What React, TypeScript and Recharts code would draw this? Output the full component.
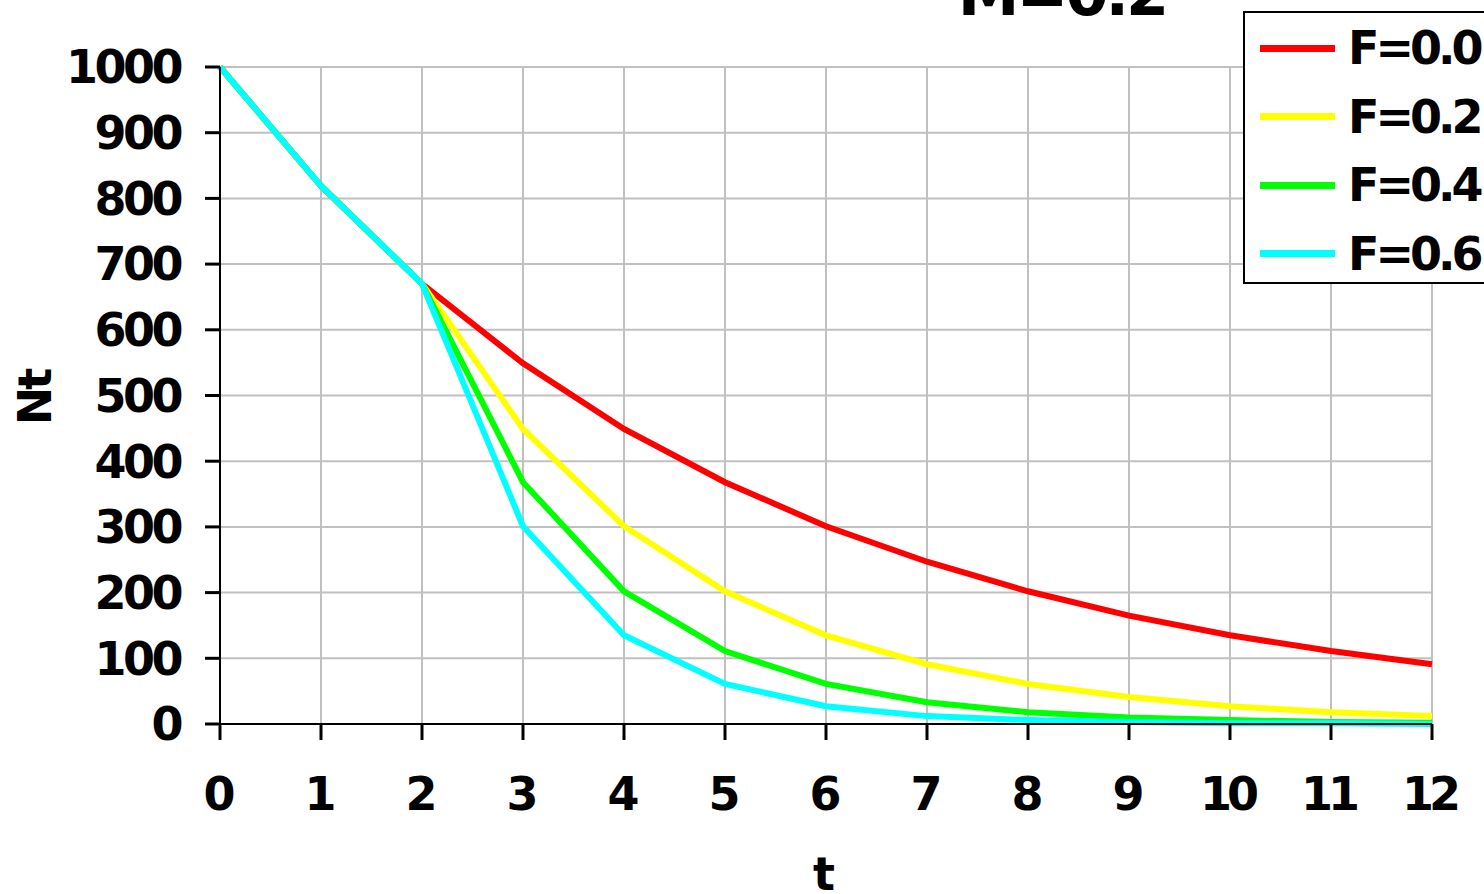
import React from 'react';
import { LineChart, Line, XAxis, YAxis, CartesianGrid } from 'recharts';

const years = [0, 1, 2, 3, 4, 5, 6, 7, 8, 9, 10, 11, 12];
const f00 = [1000, 819, 670, 549, 449, 368, 301, 247, 202, 165, 135, 111, 91];
const f02 = [1000, 819, 670, 449, 301, 202, 135, 91, 61, 41, 27, 18, 12];
const f04 = [1000, 819, 670, 368, 202, 111, 61, 33, 18, 10, 6, 3, 2];
const f06 = [1000, 819, 670, 301, 135, 61, 27, 12, 6, 3, 1, 1, 0];
const yTicks = [0, 100, 200, 300, 400, 500, 600, 700, 800, 900, 1000];

const seriesList = [
  { key: 'f00', name: 'F=0.0', color: '#ff0000', values: f00 },
  { key: 'f02', name: 'F=0.2', color: '#ffff00', values: f02 },
  { key: 'f04', name: 'F=0.4', color: '#00ff00', values: f04 },
  { key: 'f06', name: 'F=0.6', color: '#00ffff', values: f06 },
];

const data = years.map((t, i) => {
  const row: any = { t };
  seriesList.forEach(s => { row[s.key] = s.values[i]; });
  return row;
});

const FONT = '"DejaVu Sans", Verdana, sans-serif';
const xTickStyle = { fontFamily: FONT, fontWeight: 700, fontSize: 46, fill: '#000', letterSpacing: -5 };
const yTickStyle = { fontFamily: FONT, fontWeight: 700, fontSize: 46, fill: '#000', letterSpacing: -3.5 };

// legend drawn as a plain box over the chart, as in the original
const LegendBox = () => (
  <div style={{
    position: 'absolute', left: 1243, top: 11, width: 260, height: 273, background: '#fff',
    border: '2px solid #000', boxSizing: 'border-box', fontFamily: FONT,
  }}>
    {seriesList.map((s, i) => (
      <div key={s.key} style={{ position: 'absolute', left: 15, top: 8 + i * 68.5, height: 54, display: 'flex', alignItems: 'center' }}>
        <div style={{ width: 75, height: 7, background: s.color }} />
        <span style={{ marginLeft: 13, fontSize: 46, fontWeight: 700, letterSpacing: -4, lineHeight: '54px' }}>{s.name}</span>
      </div>
    ))}
  </div>
);

export default function App() {
  return (
    <div style={{ position: 'absolute', left: 0, top: 0, width: 1484, height: 894, overflow: 'hidden', background: '#fff' }}>
      <LineChart width={1484} height={894} data={data} margin={{ top: 67, right: 52, bottom: 0, left: 0 }}>
        <CartesianGrid stroke="#c0c0c0" strokeWidth={2} />
        <XAxis
          dataKey="t" type="number" domain={[0, 12]} ticks={years} height={170}
          axisLine={{ stroke: '#000', strokeWidth: 2 }} tickLine={{ stroke: '#000', strokeWidth: 3 }}
          tickSize={16} tickMargin={37} tick={{ ...xTickStyle, dx: -3 }} interval={0}
          label={{
            content: () => (
              <text x={824} y={890} textAnchor="middle" style={{ fontFamily: FONT, fontWeight: 700, fontSize: 46 }}>t</text>
            ),
          }}
        />
        <YAxis
          type="number" domain={[0, 1000]} ticks={yTicks} width={220} interval={0}
          axisLine={{ stroke: '#000', strokeWidth: 2 }} tickLine={{ stroke: '#000', strokeWidth: 3 }}
          tickSize={15} tickMargin={25} tick={yTickStyle}
          label={{
            content: () => (
              <text x={35} y={398} transform="rotate(-90 35 398)" textAnchor="middle" dominantBaseline="central"
                style={{ fontFamily: FONT, fontWeight: 700, fontSize: 46, letterSpacing: -3 }}>Nt</text>
            ),
          }}
        />
        {seriesList.map(s => (
          <Line
            key={s.key} dataKey={s.key} name={s.name} stroke={s.color} strokeWidth={6}
            dot={false} activeDot={false} type="linear" isAnimationActive={false}
          />
        ))}
      </LineChart>
      <LegendBox />
      <svg width={1484} height={60} style={{ position: 'absolute', left: 0, top: 0, pointerEvents: 'none' }}>
        <text x={1062} y={15} textAnchor="middle" style={{ fontFamily: FONT, fontWeight: 700, fontSize: 62, letterSpacing: -3 }}>M=0.2</text>
      </svg>
    </div>
  );
}
